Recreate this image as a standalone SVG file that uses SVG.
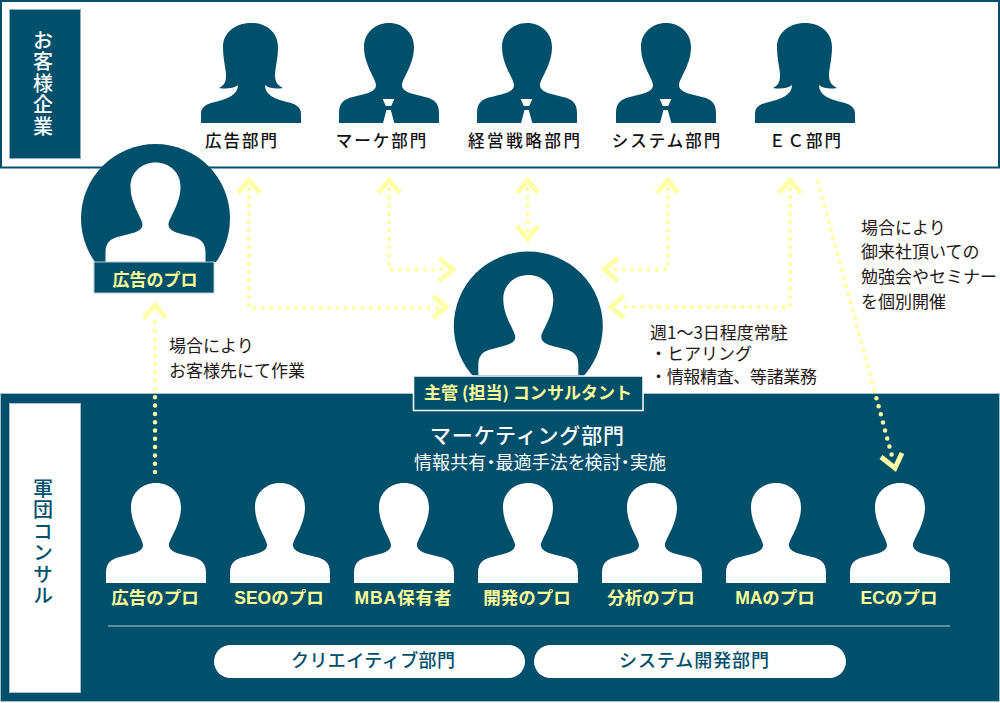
<svg xmlns="http://www.w3.org/2000/svg" width="1000" height="703" viewBox="0 0 1000 703">
<style>
text{font-family:"Noto Sans CJK JP","Noto Sans",sans-serif}
.dept{font-size:16.500px;fill:#111;text-anchor:middle;font-weight:500;letter-spacing:2px}
.note{font-size:17px;fill:#231815}
.pro{font-size:17.500px;fill:#ffff99;text-anchor:middle;font-weight:700;font-family:"Liberation Sans","Noto Sans CJK JP",sans-serif}
.tag{font-size:17px;fill:#ffff99;text-anchor:middle;font-weight:700}
.pill{font-size:18px;fill:#004f6b;text-anchor:middle;font-weight:500}
.d{fill:#004f6b}
.w{fill:#fff}
.dot{fill:none;stroke:#ffffa6;stroke-width:4.500;stroke-linecap:round;stroke-dasharray:0 8.300}
.head{fill:none;stroke:#ffffa6;stroke-width:5}
</style>
<defs>
<path id="man" d="M0,100 V90 C0,80 5,76 14,74 C24,71 37,70 37,62 C37,56 25,42 25,24 C25,10 36,0 50,0 C64,0 75,10 75,24 C75,42 63,56 63,62 C63,70 76,71 86,74 C95,76 100,80 100,90 V100 Z"/>
<path id="woman" d="M0,100 V91 C0,84 5,81 14,79 C26,76 37,72 37,62 C32,66 24,66 18,65 C24,62 25,58 25,52 C25,46 22,36 22,24 C22,10 34,0 50,0 C66,0 77,10 77,24 C77,36 74,46 74,52 C74,58 76,62 82,65 C76,66 69,66 64,62 C64,72 74,76 86,79 C95,81 100,84 100,91 V100 Z"/>
<path id="tie" d="M43.700,76 H55.300 L52.200,83 H46.800 Z M47.500,87 H51.800 L55.300,100 H44 Z"/>
<clipPath id="c1"><rect x="70" y="140" width="170" height="122"/></clipPath>
<clipPath id="c2"><rect x="440" y="245" width="180" height="131"/></clipPath>
</defs>

<g id="client-band">
<rect x="1" y="1" width="998" height="166.500" fill="#fff" stroke="#004f6b" stroke-width="2"/>
<rect x="9.500" y="9.500" width="71" height="149" class="d" stroke="#8fb0bd" stroke-width="1"/>
<text x="43" y="30" font-size="20" fill="#fff" style="writing-mode:vertical-rl;letter-spacing:1.500px;font-weight:500">お客様企業</text>
</g>

<g id="team-band">
<rect x="0.500" y="393.500" width="999" height="308" class="d" stroke="#a9c0ca" stroke-width="1"/>
<rect x="9.500" y="403.500" width="71" height="289" class="w" stroke="#a9c0ca" stroke-width="1"/>
<text x="43" y="478" font-size="20" fill="#004f6b" style="writing-mode:vertical-rl;letter-spacing:1.500px;font-weight:500">軍団コンサル</text>
<text x="527" y="443" font-size="21" fill="#fff" text-anchor="middle" font-weight="500" textLength="194" lengthAdjust="spacing">マーケティング部門</text>
<text x="540" y="469" font-size="18" fill="#fff" text-anchor="middle" textLength="252" lengthAdjust="spacing" style="font-feature-settings:'palt'">情報共有・最適手法を検討・実施</text>
<line x1="108" y1="626" x2="950" y2="626" stroke="#7fa3b2" stroke-width="1.500"/>
</g>

<g id="connectors">
<path class="dot" d="M249,189 V308 H441"/>
<path class="head" d="M238,193 L249,180 L260,193"/>
<path class="head" d="M433,296 L446,307 L433,318"/>
<path class="dot" d="M389,189 V269.500 H446"/>
<path class="head" d="M378,193 L389,180 L400,193"/>
<path class="head" d="M439,258 L453,269.500 L439,281"/>
<path class="dot" d="M527.700,189 V232"/>
<path class="head" d="M517,193 L527.700,180 L538,193"/>
<path class="head" d="M517,226 L527.700,239 L538,226"/>
<path class="dot" d="M667.700,189 V269.500 H612"/>
<path class="head" d="M657,193 L667.700,180 L678,193"/>
<path class="head" d="M618,258 L604,269.500 L618,281"/>
<path class="dot" d="M790,189 V307 H618"/>
<path class="head" d="M779,193 L790,180 L801,193"/>
<path class="head" d="M624,296 L611,307 L624,318"/>
<path class="dot" d="M155,472 V316"/>
<path class="head" d="M144,318 L155,305 L166,318"/>
<path class="dot" d="M818,182 L892,456"/>
<path class="head" d="M881,457 L895,468 L902,453"/>
</g>

<g id="dept-ad"><use href="#woman" x="201" y="23" class="d"/><text class="dept" x="242" y="147">広告部門</text></g>
<g id="dept-marketing"><use href="#man" x="339" y="23" class="d"/><use href="#tie" x="339" y="23" class="w"/><text class="dept" x="382" y="147">マーケ部門</text></g>
<g id="dept-strategy"><use href="#man" x="477" y="23" class="d"/><use href="#tie" x="477" y="23" class="w"/><text class="dept" x="525" y="147" textLength="114" lengthAdjust="spacing">経営戦略部門</text></g>
<g id="dept-system"><use href="#man" x="616" y="23" class="d"/><use href="#tie" x="616" y="23" class="w"/><text class="dept" x="667" y="147">システム部門</text></g>
<g id="dept-ec"><use href="#woman" x="755" y="23" class="d"/><text class="dept" x="806" y="147">ＥＣ部門</text></g>

<g id="ad-pro-lead">
<g clip-path="url(#c1)">
<circle cx="155.500" cy="218.500" r="74.500" class="d"/>
<use href="#man" x="105.500" y="162.500" class="w"/>
</g>
<rect x="94" y="262" width="120" height="31" class="d" stroke="#b5cad2" stroke-width="1"/>
<text class="tag" x="155" y="286">広告のプロ</text>
</g>

<g id="lead-consultant">
<g clip-path="url(#c2)">
<circle cx="528.300" cy="326" r="74.500" class="d"/>
<use href="#man" x="478.300" y="275" class="w"/>
</g>
<rect x="413.500" y="376" width="229.500" height="34.500" class="d" stroke="#fff" stroke-width="1.500"/>
<text class="tag" x="528" y="399" textLength="208" lengthAdjust="spacing">主管 (担当) コンサルタント</text>
</g>

<g id="pro-ad"><use href="#man" x="106" y="483" class="w"/><text class="pro" x="155" y="604">広告のプロ</text></g>
<g id="pro-seo"><use href="#man" x="230" y="483" class="w"/><text class="pro" x="279" y="604">SEOのプロ</text></g>
<g id="pro-mba"><use href="#man" x="354" y="483" class="w"/><text class="pro" x="403" y="604" textLength="97" lengthAdjust="spacing">MBA保有者</text></g>
<g id="pro-dev"><use href="#man" x="478" y="483" class="w"/><text class="pro" x="527" y="604">開発のプロ</text></g>
<g id="pro-analysis"><use href="#man" x="602" y="483" class="w"/><text class="pro" x="651" y="604">分析のプロ</text></g>
<g id="pro-ma"><use href="#man" x="726" y="483" class="w"/><text class="pro" x="775" y="604">MAのプロ</text></g>
<g id="pro-ec"><use href="#man" x="850" y="483" class="w"/><text class="pro" x="899" y="604">ECのプロ</text></g>

<g id="pill-creative"><rect x="214" y="645" width="311" height="33" rx="16.500" class="w"/><text class="pill" x="373" y="667" textLength="164" lengthAdjust="spacing">クリエイティブ部門</text></g>
<g id="pill-system"><rect x="534" y="645" width="312" height="33" rx="16.500" class="w"/><text class="pill" x="694" y="667" textLength="150" lengthAdjust="spacing">システム開発部門</text></g>

<g id="notes">
<text class="note" x="861" y="234">場合により</text>
<text class="note" x="861" y="258">御来社頂いての</text>
<text class="note" x="861" y="283">勉強会やセミナー</text>
<text class="note" x="861" y="308">を個別開催</text>
<text class="note" x="169" y="352">場合により</text>
<text class="note" x="169" y="377">お客様先にて作業</text>
<text class="note" x="650" y="339">週1～3日程度常駐</text>
<text class="note" x="650" y="360">・ヒアリング</text>
<text class="note" x="650" y="383" textLength="167" lengthAdjust="spacing">・情報精査、等諸業務</text>
</g>
</svg>
